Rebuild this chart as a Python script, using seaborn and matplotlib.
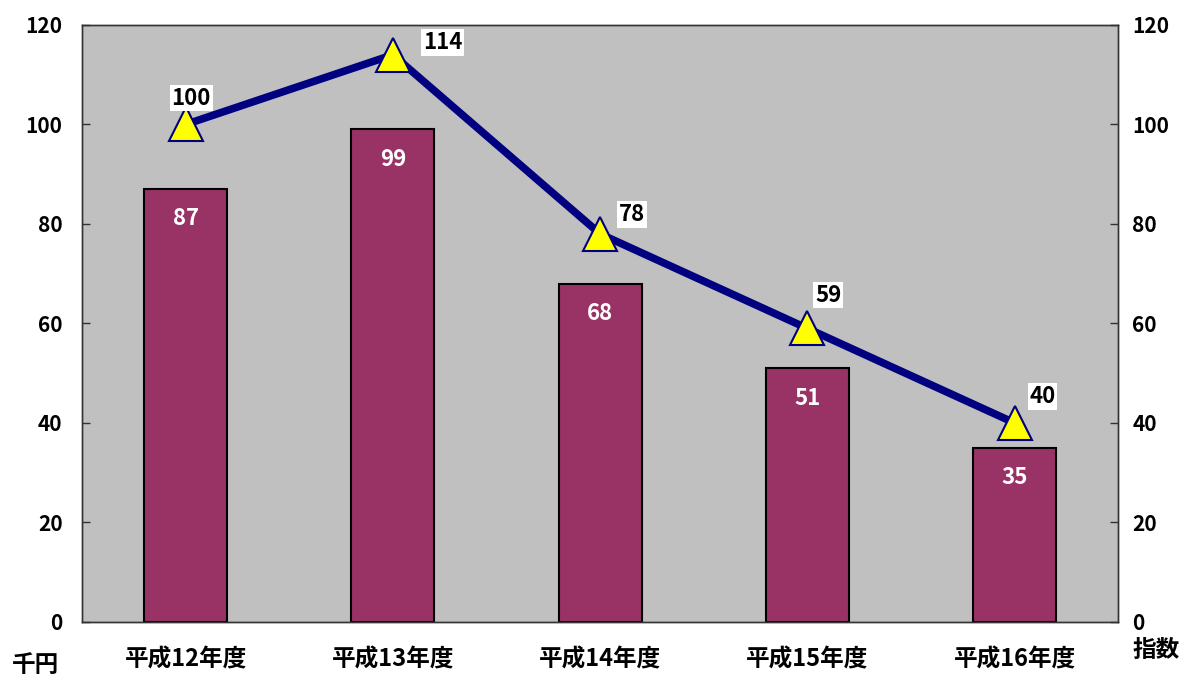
import numpy as np
import pandas as pd
import matplotlib
matplotlib.use('Agg')
import matplotlib.pyplot as plt
import seaborn as sns

sns.set_style('white')
plt.rcParams['font.family'] = ['Noto Sans CJK JP', 'DejaVu Sans']
plt.rcParams['font.weight'] = 'bold'
plt.rcParams['text.color'] = 'black'
plt.rcParams['xtick.labelcolor'] = 'black'
plt.rcParams['ytick.labelcolor'] = 'black'

# データ
categories = ['平成12年度', '平成13年度', '平成14年度', '平成15年度', '平成16年度']
amount = [87, 99, 68, 51, 35]      # 千円
index_vals = [100, 114, 78, 59, 40]  # 指数

df = pd.DataFrame({'category': categories, 'amount': amount, 'index': index_vals})

fig = plt.figure(figsize=(11.83, 6.8), dpi=100)
ax = fig.add_axes([0.0693, 0.0853, 0.876, 0.878])
ax.set_facecolor('#C0C0C0')

sns.barplot(data=df, x='category', y='amount', ax=ax, color='#993366',
            width=0.4, edgecolor='black', linewidth=1.5, saturation=1)
for p, v in zip(ax.patches, amount):
    ax.text(p.get_x() + p.get_width() / 2, v - 6, str(v), ha='center', va='center',
            color='white', fontsize=16, fontweight='bold')

ax.set_ylim(0, 120)
ax.set_xlim(-0.5, 4.5)
ax.set_yticks(range(0, 121, 20))
ax.set_xlabel('')
ax.set_ylabel('')

ax2 = ax.twinx()
sns.lineplot(x=list(range(len(categories))), y=index_vals, ax=ax2, color='#000080',
             linewidth=5.5, marker='^', markersize=24, markerfacecolor='yellow',
             markeredgecolor='#000080', markeredgewidth=1.5)
ax2.set_ylim(0, 120)
ax2.set_yticks(range(0, 121, 20))

offsets = [(4, 19), (36, 9), (23, 14), (15, 24), (20, 19)]
for i, (v, off) in enumerate(zip(index_vals, offsets)):
    ax2.annotate(str(v), (i, v), xytext=off, textcoords='offset points',
                 ha='center', va='center', fontsize=16, fontweight='bold', color='black',
                 bbox=dict(boxstyle='square,pad=0.08', fc='white', ec='none'))

for a in (ax, ax2):
    a.tick_params(axis='both', direction='in', length=6, width=1, labelsize=15,
                  color='#333333', labelcolor='black', pad=10)
    for s in a.spines.values():
        s.set_color('#333333')
        s.set_linewidth(1)
ax.tick_params(axis='y', pad=14)
ax.set_xticks(np.arange(-0.5, 5, 1), minor=True)
ax.tick_params(axis='x', which='major', length=0, pad=18, labelsize=17)
ax.tick_params(axis='x', which='minor', direction='in', length=6, color='#333333')
for lbl in ax.get_xticklabels() + ax.get_yticklabels() + ax2.get_yticklabels():
    lbl.set_fontweight('bold')

fig.text(0.03, 0.022, '千円', fontsize=17, fontweight='bold', ha='center', va='center')
fig.text(0.977, 0.044, '指数', fontsize=17, fontweight='bold', ha='center', va='center')

fig.savefig('out.png', dpi=100)
